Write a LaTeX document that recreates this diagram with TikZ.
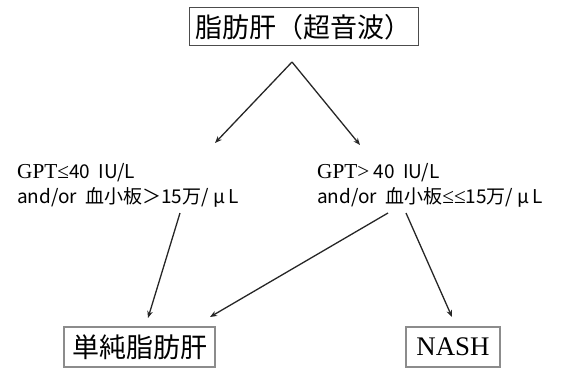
\documentclass[tikz,border=0pt]{standalone}
\usepackage{fontspec}
\setmainfont{Noto Sans CJK JP}
\newfontfamily\serifjp[Scale=1.12]{Liberation Serif}
\usetikzlibrary{arrows.meta}
\begin{document}
\begin{tikzpicture}[x=1pt,y=-1pt,
  arr/.style={draw=black!85,line width=1.3pt,-{Stealth[length=7pt,width=5.5pt]}},
  boxa/.style={draw=black!70,line width=1pt,inner sep=0pt,minimum height=38pt},
  boxb/.style={draw=black!45,line width=1.2pt,inner sep=0pt,minimum height=40pt},
  cond/.style={anchor=west,align=left,inner sep=0pt,font=\fontsize{19}{25}\selectfont}]
\useasboundingbox (0,0) rectangle (561,369);
\node[boxa,minimum width=229pt,font=\fontsize{27}{30}\selectfont] (top) at (303.5,27) {脂肪肝（超音波）};
\coordinate (apex) at (292,62);
\coordinate (la) at (215,143);
\coordinate (ra) at (360,145);
\node[cond] (left) at (17,185) {{\serifjp GPT≤}40\ \ IU/L\\and/or\ \ 血小板＞15万/\ μ\,L};
\node[cond] (right) at (317,185) {{\serifjp GPT>}\ 40\ \ IU/L\\and/or\ \ 血小板{\serifjp ≤≤}15万/\ μ\,L};
\node[boxb,minimum width=151pt,font=\fontsize{27}{30}\selectfont] (simple) at (139.5,347) {単純脂肪肝};
\node[boxb,minimum width=94pt,font=\serifjp\fontsize{24}{30}\selectfont] (nash) at (453,347) {NASH};
\coordinate (l0) at (180,213);
\coordinate (r0) at (388,213);
\coordinate (n0) at (406,213);
\draw[arr] (apex) -- (la);
\draw[arr] (apex) -- (ra);
\draw[arr] (l0) -- (148,318);
\draw[arr] (r0) -- (210,317);
\draw[arr] (n0) -- (452,317);
\end{tikzpicture}
\end{document}
